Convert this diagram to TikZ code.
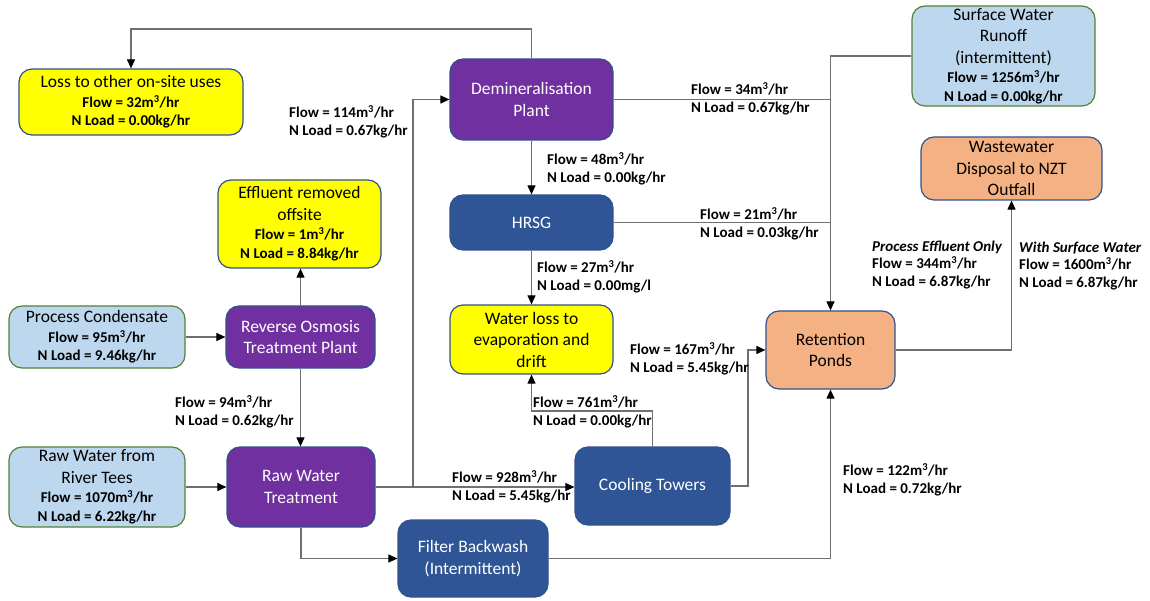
\documentclass[tikz,border=0pt]{standalone}
\usepackage{fontspec}
\setmainfont{Carlito}
\usetikzlibrary{arrows.meta}
\definecolor{ylw}{HTML}{FFFF00}
\definecolor{prp}{HTML}{7030A0}
\definecolor{dbl}{HTML}{2F5597}
\definecolor{lbl}{HTML}{BDD7EE}
\definecolor{org}{HTML}{F4B183}
\definecolor{bdb}{HTML}{2F528F}
\definecolor{bgr}{HTML}{548235}
\definecolor{lnc}{HTML}{707070}
\newcommand\bsm[1]{{\bfseries\fontsize{15}{18}\selectfont #1}}
\newcommand\mcube{m\textsuperscript{3}}
\begin{document}
\begin{tikzpicture}[x=1pt,y=-1pt,
  box/.style={rectangle, rounded corners=13pt, line width=1.2pt, align=center, inner sep=2pt,
              font=\fontsize{17.5}{21.5}\selectfont},
  yb/.style={box, fill=ylw, draw=bdb, text=black},
  pb/.style={box, fill=prp, draw=bdb, text=white},
  db/.style={box, fill=dbl, draw=bdb, text=white},
  lb/.style={box, fill=lbl, draw=bgr, text=black},
  ob/.style={box, fill=org, draw=bdb, text=black},
  lab/.style={anchor=west, align=left, inner sep=0pt, font=\bfseries\fontsize{15}{17.7}\selectfont},
  conn/.style={draw=lnc, line width=1.1pt},
  arr/.style={conn, -{Triangle[length=9pt,width=8pt,color=black]}}
]
\useasboundingbox (0,0) rectangle (1150,601);

% boxes
\node[yb, minimum width=224pt, minimum height=66pt] (loss) at (131,102)
  {Loss to other on-site uses\\[-2pt] \bsm{Flow =  32\mcube/hr}\\[-3pt] \bsm{N Load = 0.00kg/hr}};
\node[yb, minimum width=163pt, minimum height=88pt] (eff) at (299.5,224)
  {Effluent removed\\ offsite\\[-2pt] \bsm{Flow = 1\mcube/hr}\\[-2.5pt] \bsm{N Load = 8.84kg/hr}};
\node[lb, minimum width=176pt, minimum height=62pt] (pc) at (97,337)
  {Process Condensate\\[-2pt] \bsm{Flow = 95\mcube/hr}\\[-3pt] \bsm{N Load = 9.46kg/hr}};
\node[pb, minimum width=149pt, minimum height=62pt] (ro) at (300.5,337)
  {Reverse Osmosis\\ Treatment Plant};
\node[lb, minimum width=176pt, minimum height=80pt] (rw) at (97,487)
  {Raw Water from\\ River Tees\\[-2pt] \bsm{Flow = 1070\mcube/hr}\\[-3pt] \bsm{N Load = 6.22kg/hr}};
\node[pb, minimum width=148pt, minimum height=80pt] (rwt) at (301,487)
  {Raw Water\\ Treatment};
\node[db, minimum width=150pt, minimum height=77pt] (fb) at (473,558.5)
  {Filter Backwash\\ (Intermittent)};
\node[pb, minimum width=163pt, minimum height=81pt] (demin) at (531.5,99.5)
  {Demineralisation\\ Plant};
\node[db, minimum width=163pt, minimum height=55pt] (hrsg) at (531.5,222.5)
  {HRSG};
\node[yb, minimum width=163pt, minimum height=69pt] (wl) at (531.5,339.5)
  {Water loss to\\ evaporation and\\ drift};
\node[db, minimum width=155pt, minimum height=78pt] (ct) at (652.5,486)
  {Cooling Towers};
\node[ob, minimum width=129pt, minimum height=78pt] (ret) at (830.5,350)
  {Retention\\ Ponds};
\node[lb, minimum width=183pt, minimum height=100pt] (sw) at (1003.5,56)
  {Surface Water\\ Runoff\\ (intermittent)\\[-2pt] \bsm{Flow =  1256\mcube/hr}\\[-3pt] \bsm{N Load = 0.00kg/hr}};
\node[ob, minimum width=181pt, minimum height=63pt] (ww) at (1011.5,168.5)
  {Wastewater\\ Disposal to NZT\\ Outfall};

% junction coordinates
\coordinate (jtop) at (131,29);
\coordinate (jd) at (413,487);
\coordinate (jc) at (531.5,411);
\coordinate (jr) at (748,486);

% connectors
\draw[arr] (demin.north) |- (jtop) -- (loss.north);
\draw[arr] (rwt.east) -- (rwt.east -| ct.west);
\draw[arr] (jd) |- (demin.west);
\draw[arr] (pc.east) -- (ro.west);
\draw[arr] (ro.north) -- (ro.north |- eff.south);
\draw[arr] (ro.south) -- (ro.south |- rwt.north);
\draw[arr] (rw.east) -- (rwt.west);
\draw[arr] (rwt.south) |- (fb.west);
\draw[arr] (fb.east) -| (ret.south);
\draw[arr] (demin.south) -- (hrsg.north);
\draw[arr] (hrsg.south) -- (wl.north);
\draw[conn] (demin.east) -- (demin.east -| ret.north);
\draw[conn] (hrsg.east) -- (hrsg.east -| ret.north);
\draw[arr] (sw.west) -| (ret.north);
\draw[arr] (ct.north) |- (jc) -- (wl.south);
\draw[arr] (ct.east) -- (jr) |- (ret.west);
\draw[arr] (ret.east) -| (ww.south);

% labels
\node[lab] (l114) at (289,122) {Flow = 114\mcube/hr\\ N Load = 0.67kg/hr};
\node[lab] (l94) at (175,411.5) {Flow =  94\mcube/hr\\ N Load = 0.62kg/hr};
\node[lab] (l48) at (547,169) {Flow = 48\mcube/hr\\ N Load = 0.00kg/hr};
\node[lab] (l27) at (537,277) {Flow = 27\mcube/hr\\ N Load = 0.00mg/l};
\node[lab] (l34) at (691,99) {Flow = 34\mcube/hr\\ N Load = 0.67kg/hr};
\node[lab] (l21) at (700,224) {Flow = 21\mcube/hr\\ N Load = 0.03kg/hr};
\node[lab] (l928) at (452,487) {Flow = 928\mcube/hr\\ N Load = 5.45kg/hr};
\node[lab] (l761) at (533,412) {Flow =  761\mcube/hr\\ N Load = 0.00kg/hr};
\node[lab] (l167) at (630,359) {Flow = 167\mcube/hr\\ N Load = 5.45kg/hr};
\node[lab] (l122) at (843,480) {Flow =  122\mcube/hr\\ N Load = 0.72kg/hr};
\node[lab] (lpe) at (872,265) {\itshape Process Effluent Only\\ Flow =  344\mcube/hr\\ N Load = 6.87kg/hr};
\node[lab] (lsw) at (1019,266) {\itshape With Surface Water\\ Flow =  1600\mcube/hr\\ N Load = 6.87kg/hr};
\end{tikzpicture}
\end{document}
